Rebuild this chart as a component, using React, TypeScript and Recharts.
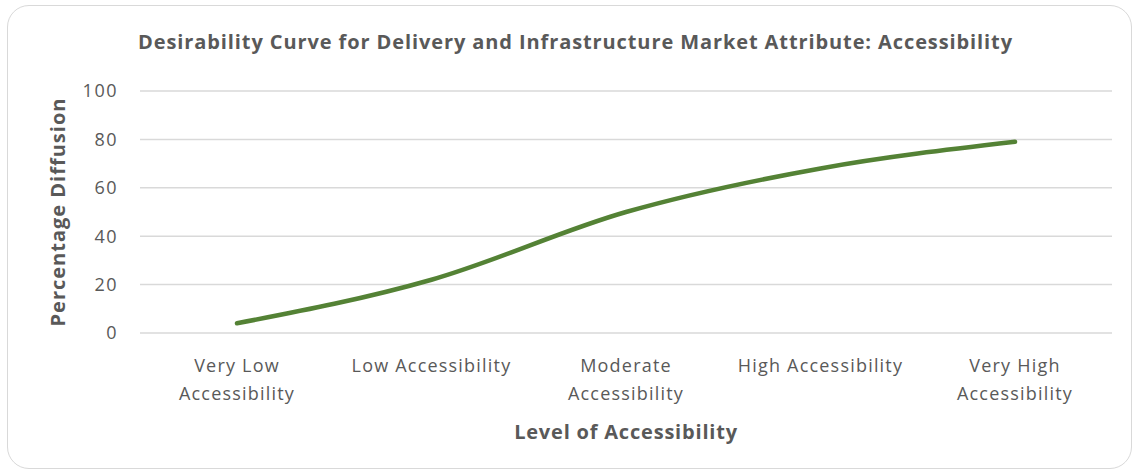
import React from "react";
import { LineChart, Line, XAxis, YAxis, CartesianGrid } from "recharts";

const categories = [
  "Very Low Accessibility",
  "Low Accessibility",
  "Moderate Accessibility",
  "High Accessibility",
  "Very High Accessibility",
];
const diffusion = [4, 22, 50, 68, 79];
const yTicks = [0, 20, 40, 60, 80, 100];

const chartTitle = "Desirability Curve for Delivery and Infrastructure Market Attribute: Accessibility";
const xTitle = "Level of Accessibility";
const yTitle = "Percentage Diffusion";

const data = categories.map((c, i) => ({ category: c, value: diffusion[i] }));

const FONT = "'Open Sans', sans-serif";
const TEXT = "#595959";

const XTick = (props: any) => {
  const { x, y, payload } = props;
  const words = String(payload.value).split(" ");
  const lines = String(payload.value).length > 18
    ? [words.slice(0, -1).join(" "), words[words.length - 1]]
    : [String(payload.value)];
  return (
    <g>
      {lines.map((l, i) => (
        <text
          key={i}
          x={x}
          y={y + i * 28}
          textAnchor="middle"
          dominantBaseline="central"
          fill={TEXT}
          fontFamily={FONT}
          fontSize={18}
          letterSpacing={1.2}
        >
          {l}
        </text>
      ))}
    </g>
  );
};

export default function App() {
  return (
    <div style={{ position: "fixed", left: 0, top: 0, width: 1137, height: 476, background: "#fff" }}>
      <div
        style={{
          position: "absolute",
          left: 7,
          top: 5,
          width: 1125,
          height: 464,
          border: "1.5px solid #d9d9d9",
          borderRadius: 22,
          boxSizing: "border-box",
        }}
      />
      <div
        style={{
          position: "absolute",
          left: 7,
          top: 28,
          width: 1137,
          textAlign: "center",
          fontFamily: FONT,
          fontWeight: 700,
          fontSize: 20,
          color: TEXT,
          letterSpacing: 0.9,
        }}
      >
        {chartTitle}
      </div>
      <div
        style={{
          position: "absolute",
          left: 626 - 200,
          top: 418,
          width: 400,
          textAlign: "center",
          fontFamily: FONT,
          fontWeight: 700,
          fontSize: 20,
          letterSpacing: 0.8,
          color: TEXT,
        }}
      >
        {xTitle}
      </div>
      <div
        style={{
          position: "absolute",
          left: 58 - 150,
          top: 212 - 14,
          width: 300,
          height: 28,
          lineHeight: "28px",
          textAlign: "center",
          fontFamily: FONT,
          fontWeight: 700,
          fontSize: 20,
          letterSpacing: 1,
          color: TEXT,
          transform: "rotate(-90deg)",
        }}
      >
        {yTitle}
      </div>
      <div style={{ position: "absolute", left: 0, top: 0 }}>
        <LineChart
          width={1137}
          height={476}
          data={data}
          margin={{ top: 91, right: 25, bottom: 83, left: 100 }}
        >
          <CartesianGrid vertical={false} stroke="#d9d9d9" strokeWidth={1.5} />
          <XAxis
            dataKey="category"
            axisLine={false}
            tickLine={false}
            tickSize={0}
            tickMargin={32}
            height={60}
            interval={0}
            padding={{ left: 97, right: 97 }}
            tick={<XTick />}
          />
          <YAxis
            domain={[0, 100]}
            ticks={yTicks}
            width={40}
            axisLine={false}
            tickLine={false}
            tickSize={0}
            tickMargin={22}
            tick={{ fill: TEXT, fontFamily: FONT, fontSize: 18, letterSpacing: 1.5 }}
          />
          <Line
            type="monotone"
            dataKey="value"
            stroke="#548235"
            strokeWidth={4.5}
            strokeLinecap="round"
            dot={false}
            activeDot={false}
            isAnimationActive={false}
          />
        </LineChart>
      </div>
    </div>
  );
}
